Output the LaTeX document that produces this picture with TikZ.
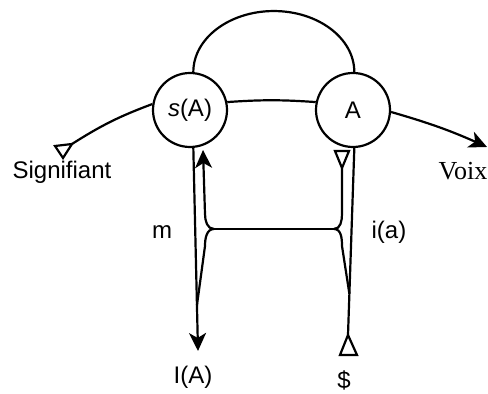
\documentclass[tikz,border=0pt]{standalone}
\usepackage{fontspec}
\setmainfont{Liberation Sans}
\newfontfamily\voixfont{Liberation Serif}
\usepackage{tikz}
\usetikzlibrary{arrows.meta, calc}

\begin{document}
\begin{tikzpicture}[
			x=0.5pt, y=-0.5pt,
			line width=1.1pt,
			>={Stealth[length=9pt, width=8.5pt, inset=2.5pt]},
			place/.style={
					draw,
					circle,
					minimum size=37pt,
					inner sep=0pt,
					font=\fontsize{12}{14}\selectfont
				},
			lbl/.style={
					inner sep=1pt,
					font=\fontsize{12}{14}\selectfont
				}
		]
		\useasboundingbox (0,0) rectangle (488,394);

		\node[place] (sA) at (190,110) {\textit{s}(A)};
		\node[place] (A) at (353,110) {A};

		\node[lbl] (sig) at (62,172) {Signifiant};
		\node[lbl, font=\voixfont\fontsize{13}{15}\selectfont] (voix) at (463,171) {Voix};
		\node[lbl] (m) at (162,232) {m};
		\node[lbl] (ia) at (389,232) {i(a)};
		\node[lbl] (IA) at (193,377) {I(A)};
		\node[lbl] (S) at (344,380) {\$};

		\coordinate (sigEnd) at (72,144);
		\coordinate (voixTip) at (487,147);
		\coordinate (hubL) at (214,229);
		\coordinate (hubR) at (334,229);
		\coordinate (upTip) at (203,150);
		\coordinate (aTri) at (342,168);
		\coordinate (mTip) at (198,351);
		\coordinate (sTri) at (348,335);

		% upper loop and chain
		\draw (sA.85) arc[start angle=180, end angle=0, x radius=40.25pt, y radius=30.5pt];
		\draw (sA.12) to[bend left=4] (A.168);
		\draw (sigEnd) to[bend left=6] (sA.171);
		\draw[->] (A.-3) to[bend left=4] (voixTip);

		% open triangles
		\draw (sigEnd) -- ++(-17,2) -- ++(8,12) -- cycle;
		\draw (aTri) -- ++(-7,-17) -- ++(14,0) -- cycle;
		\draw (sTri) -- ++(-8,20) -- ++(17,0) -- cycle;

		% verticals
		\draw[->] (sA.-85) -- (mTip);
		\draw (A.-88) -- (sTri);

		% crossing bar
		\draw (hubL) -- (hubR);
		\draw[->] (hubL) to[out=180, in=-90] ++(-9,-15) -- (upTip);
		\draw (hubR) to[out=0, in=-90] ++(8,-15) -- (aTri);
		\draw (hubL) to[out=180, in=90] ++(-9,17) -- ($(sA.-85)!0.775!(mTip)$);
		\draw (hubR) to[out=0, in=90] ++(8,17) -- ($(A.-88)!0.78!(sTri)$);
	\end{tikzpicture}
\end{document}
